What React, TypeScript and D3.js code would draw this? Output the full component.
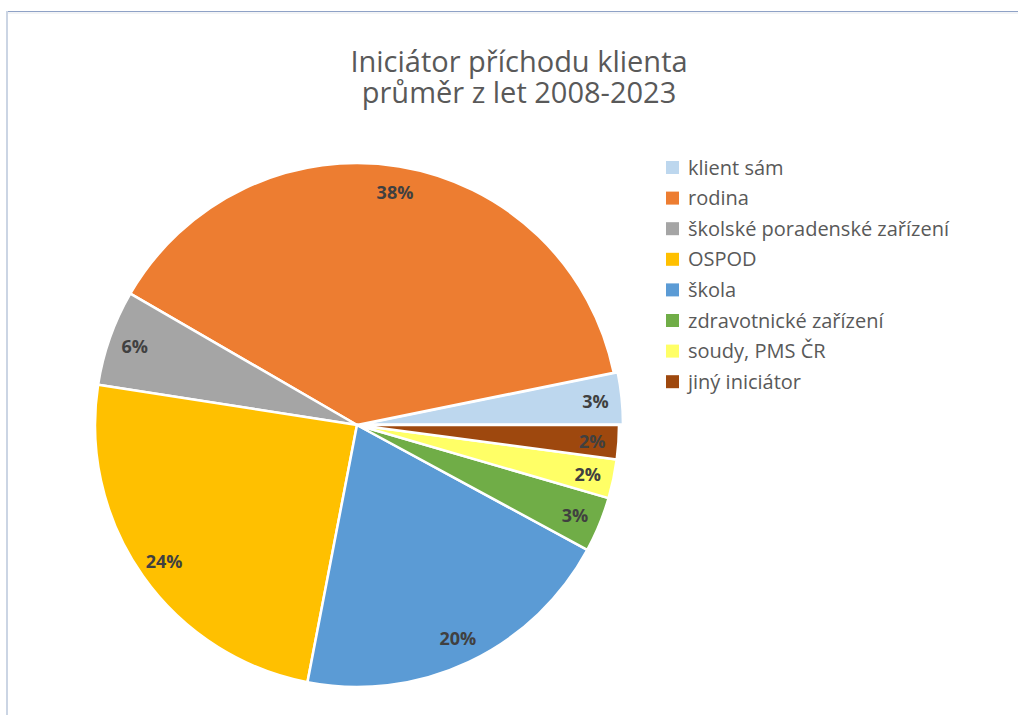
import React from "react";
import * as d3 from "d3";

const categories = [
  "klient sám",
  "rodina",
  "školské poradenské zařízení",
  "OSPOD",
  "škola",
  "zdravotnické zařízení",
  "soudy, PMS ČR",
  "jiný iniciátor",
];
const values = [3.2, 38.4, 5.9, 24.4, 20.1, 3.4, 2.4, 2.1];
const labels = ["3%", "38%", "6%", "24%", "20%", "3%", "2%", "2%"];
const colors = ["#BDD7EE", "#ED7D31", "#A5A5A5", "#FFC000", "#5B9BD5", "#70AD47", "#FFFF66", "#9E480E"];
const exploded = [4, 0, 0, 0, 0, 0, 0, 0];
const titleLines = ["Iniciátor příchodu klienta", "průměr z let 2008-2023"];

const W = 1018;
const H = 715;
const cx = 357;
const cy = 425;
const R = 262;
const FONT = "'Open Sans', sans-serif";

export default function App() {
  const pie = d3
    .pie<number>()
    .sort(null)
    .value((d) => d)
    .startAngle(Math.PI / 2)
    .endAngle(Math.PI / 2 - 2 * Math.PI);
  const arcs = pie(values);
  const arc = d3.arc<d3.PieArcDatum<number>>().innerRadius(0).outerRadius(R);
  const labelArc = d3.arc<d3.PieArcDatum<number>>().innerRadius(R * 0.9).outerRadius(R * 0.9);

  const legendX = 666;
  const legendY = 161;
  const legendStep = 30.6;

  return (
    <svg width={W} height={H} style={{ position: "absolute", left: 0, top: 0, background: "#fff" }}>
      <rect x={0} y={0} width={W} height={H} fill="#fff" />
      <line x1={6} y1={11.5} x2={W} y2={11.5} stroke="#8FA2C6" strokeWidth={1} />
      <line x1={8} y1={13} x2={W} y2={13} stroke="#E6E9EE" strokeWidth={1} />
      <line x1={7} y1={11} x2={7} y2={H} stroke="#CBD5E4" strokeWidth={2} />
      <text textAnchor="middle" fontFamily={FONT} fontSize={29} fill="#595959">
        {titleLines.map((t, i) => (
          <tspan key={i} x={519} y={72 + i * 31}>
            {t}
          </tspan>
        ))}
      </text>
      <g transform={`translate(${cx},${cy})`}>
        {arcs.map((a, i) => {
          const mid = (a.startAngle + a.endAngle) / 2;
          const dx = Math.sin(mid) * exploded[i];
          const dy = -Math.cos(mid) * exploded[i];
          return (
            <path
              key={i}
              d={arc(a) || ""}
              transform={`translate(${dx},${dy})`}
              fill={colors[i]}
              stroke="#fff"
              strokeWidth={2.5}
              strokeLinejoin="round"
            />
          );
        })}
        {arcs.map((a, i) => {
          const mid = (a.startAngle + a.endAngle) / 2;
          const [lx, ly] = labelArc.centroid(a);
          const dx = Math.sin(mid) * exploded[i];
          const dy = -Math.cos(mid) * exploded[i];
          return (
            <text
              key={"l" + i}
              x={lx + dx}
              y={ly + dy}
              textAnchor="middle"
              dominantBaseline="central"
              fontFamily={FONT}
              fontWeight="bold"
              fontSize={18}
              fill="#404040"
            >
              {labels[i]}
            </text>
          );
        })}
      </g>
      {categories.map((c, i) => (
        <g key={c} transform={`translate(${legendX},${legendY + i * legendStep})`}>
          <rect x={0} y={0} width={13} height={13} fill={colors[i]} />
          <text x={22} y={13.5} fontFamily={FONT} fontSize={20} fill="#595959">
            {c}
          </text>
        </g>
      ))}
    </svg>
  );
}
